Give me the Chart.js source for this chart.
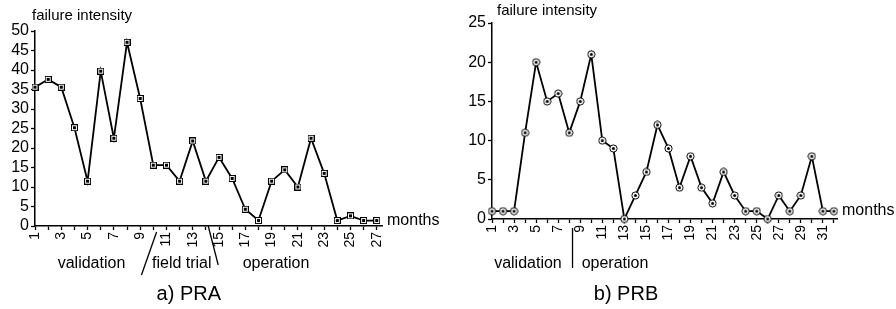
<!DOCTYPE html>
<html>
<head>
<meta charset="utf-8">
<script src="https://cdn.jsdelivr.net/npm/chart.js@4/dist/chart.umd.min.js"></script>
<style>
  html, body { margin: 0; padding: 0; background: #fff; }
  #wrap { position: relative; width: 896px; height: 309px; overflow: hidden; }
  #chartA { position: absolute; left: 0; top: 0; }
  #chartB { position: absolute; left: 440px; top: 0; }
</style>
</head>
<body>
<div id="wrap">
  <canvas id="chartA" width="440" height="309"></canvas>
  <canvas id="chartB" width="456" height="309"></canvas>
</div>
<script>
// Data
const monthsA = [1, 2, 3, 4, 5, 6, 7, 8, 9, 10, 11, 12, 13, 14, 15, 16, 17, 18, 19, 20, 21, 22, 23, 24, 25, 26, 27];
const failuresA = [35.6, 37.6, 35.6, 25.2, 11.5, 39.7, 22.5, 47.1, 32.7, 15.6, 15.6, 11.5, 21.8, 11.5, 17.6, 12.2, 4.3, 1.4, 11.5, 14.4, 10, 22.5, 13.5, 1.4, 2.6, 1.4, 1.4];

const monthsB = [1, 2, 3, 4, 5, 6, 7, 8, 9, 10, 11, 12, 13, 14, 15, 16, 17, 18, 19, 20, 21, 22, 23, 24, 25, 26, 27, 28, 29, 30, 31, 32];
const failuresB = [1, 1, 1, 11, 20, 15, 16, 11, 15, 21, 10, 9, 0, 3, 6, 12, 9, 4, 8, 4, 2, 6, 3, 1, 1, 0, 3, 1, 3, 8, 1, 1];

const yTicksA = { max: 50, step: 5 };
const yTicksB = { max: 25, step: 5 };

const FONT = '"Liberation Sans", Arial, Helvetica, sans-serif';

// Marker images
function squareMarker() {
    const c = document.createElement('canvas');
    c.width = 7; c.height = 7;
    const g = c.getContext('2d');
    g.fillStyle = '#000'; g.fillRect(0, 0, 7, 7);
    g.fillStyle = '#fff'; g.fillRect(1, 1, 5, 5);
    g.fillStyle = '#000'; g.fillRect(2, 2, 3, 3);
    return c;
}

function circleMarker() {
    const c = document.createElement('canvas');
    c.width = 9; c.height = 9;
    const g = c.getContext('2d');
    g.beginPath(); g.arc(4.5, 4.5, 3.6, 0, Math.PI * 2);
    g.fillStyle = '#fff'; g.fill();
    g.lineWidth = 1; g.strokeStyle = '#000'; g.stroke();
    g.beginPath(); g.arc(4.5, 4.5, 1.5, 0, Math.PI * 2);
    g.fillStyle = '#000'; g.fill();
    return c;
}

// Axis titles, phase labels and captions
const notesPlugin = {
    id: 'notes',
    afterDraw(chart, args, opts) {
        const { ctx, chartArea } = chart;
        const x = chart.scales.x;
        ctx.save();
        ctx.fillStyle = '#000';
        ctx.strokeStyle = '#000';
        ctx.lineWidth = 1.3;
        ctx.textBaseline = 'alphabetic';

        ctx.font = '15px ' + FONT;
        ctx.textAlign = 'left';
        ctx.fillText('failure intensity', chartArea.left + opts.titleDx, opts.titleY);

        ctx.font = '16px ' + FONT;
        ctx.fillText('months', chartArea.right + 5, chartArea.bottom + opts.monthsDy);

        opts.phases.forEach(p => {
            ctx.textAlign = p.align;
            ctx.fillText(p.text, x.getPixelForValue(p.at), opts.phaseY);
        });

        opts.marks.forEach(m => {
            ctx.beginPath();
            ctx.moveTo(x.getPixelForValue(m[0]), m[1]);
            ctx.lineTo(x.getPixelForValue(m[2]), m[3]);
            ctx.stroke();
        });

        ctx.font = '20px ' + FONT;
        ctx.textAlign = 'center';
        ctx.fillText(opts.caption, x.getPixelForValue(opts.captionAt), 300);
        ctx.restore();
    }
};

function makeChart(id, months, values, marker, xMax, yCfg, pad, xHeight, notes) {
    return new Chart(document.getElementById(id), {
        type: 'line',
        data: {
            datasets: [{
                data: months.map((m, i) => ({ x: m, y: values[i] })),
                borderColor: '#000',
                borderWidth: 1.8,
                pointStyle: marker,
                pointRadius: 4,
                tension: 0,
                clip: false
            }]
        },
        options: {
            responsive: false,
            animation: false,
            layout: { padding: pad },
            plugins: {
                legend: { display: false },
                tooltip: { enabled: false },
                notes: notes
            },
            scales: {
                x: {
                    type: 'linear',
                    min: 1,
                    max: xMax,
                    afterFit: s => { s.height = xHeight; },
                    border: { display: true, color: '#000', width: 1.5 },
                    grid: { display: true, drawOnChartArea: false, drawTicks: true, tickLength: 4, color: '#000', tickWidth: 1.3 },
                    ticks: {
                        stepSize: 1,
                        autoSkip: false,
                        includeBounds: false,
                        minRotation: 90,
                        maxRotation: 90,
                        padding: 2,
                        color: '#000',
                        font: { family: FONT, size: 14 },
                        callback: v => (v % 2 === 1 ? String(v) : '')
                    }
                },
                y: {
                    min: 0,
                    max: yCfg.max,
                    afterFit: s => { s.width = pad.yWidth; },
                    border: { display: true, color: '#000', width: 1.5 },
                    grid: { display: true, drawOnChartArea: false, drawTicks: true, tickLength: 4, color: '#000', tickWidth: 1.3 },
                    ticks: {
                        stepSize: yCfg.step,
                        autoSkip: false,
                        padding: 2,
                        color: '#000',
                        font: { family: FONT, size: 16 }
                    }
                }
            }
        },
        plugins: [notesPlugin]
    });
}

Chart.defaults.font.family = FONT;

makeChart('chartA', monthsA, failuresA, squareMarker(), 27.4, yTicksA,
    { left: 0, right: 58, top: 31, bottom: 0, yWidth: 35 }, 83,
    {
        titleDx: -3, titleY: 20, monthsDy: -1, phaseY: 268,
        phases: [
            { text: 'validation', at: 5.3, align: 'center' },
            { text: 'field trial', at: 9.9, align: 'left' },
            { text: 'operation', at: 16.8, align: 'left' }
        ],
        marks: [[9.1, 275, 10.25, 232], [14.18, 226, 14.94, 265]],
        caption: 'a) PRA', captionAt: 12.7
    });

makeChart('chartB', monthsB, failuresB, circleMarker(), 32.28, yTicksB,
    { left: 0, right: 59, top: 23, bottom: 0, yWidth: 52 }, 90,
    {
        titleDx: 5, titleY: 15, monthsDy: -4, phaseY: 268,
        phases: [
            { text: 'validation', at: 4.26, align: 'center' },
            { text: 'operation', at: 9.13, align: 'left' }
        ],
        marks: [[8.3, 228, 8.3, 268]],
        caption: 'b) PRB', captionAt: 13.15
    });
</script>
</body>
</html>
